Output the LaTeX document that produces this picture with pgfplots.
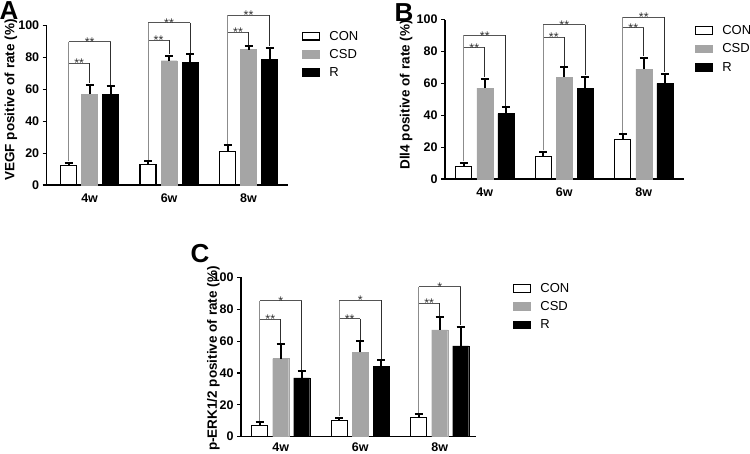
\documentclass[border=0pt]{standalone}
\usepackage{pgfplots}
\pgfplotsset{compat=1.18}
\usepackage{pgfplotstable}
\usepackage{fontspec}
\setmainfont{Liberation Sans}
\definecolor{csdgray}{HTML}{A5A5A5}
\definecolor{brgray}{HTML}{8C8C8C}
\definecolor{brmid}{HTML}{555555}
\definecolor{brdark}{HTML}{303030}

\pgfplotstableread{
x con conerr csd csderr r rerr
0 12 2 57 6 57 5
1 13 2 78 3 77 5
2 21 4 85 2 79 7
}\dataA
\pgfplotstableread{
x con conerr csd csderr r rerr
0 8 2 57 6 41 4
1 14 3 64 6 57 7
2 25 3 69 7 60 6
}\dataB
\pgfplotstableread{
x con conerr csd csderr r rerr
0 7 2 49 9 37 4
1 10 2 53 7 44 4
2 12 2 67 8 57 12
}\dataC

% x1 y1 x2 y2 ytop xmid stars
\newcommand{\sig}[7]{%
  \draw[brgray, line width=0.9pt] (axis cs:#1,#2) -- (axis cs:#1,#5);
  \draw[brmid, line width=0.9pt] (axis cs:#1,#5) -- (axis cs:#3,#5);
  \draw[brdark, line width=0.9pt] (axis cs:#3,#5) -- (axis cs:#3,#4);
  \node[anchor=base, inner sep=0pt, yshift=-4.6pt, text=brdark, font=\fontsize{12.5}{12.5}\selectfont] at (axis cs:#6,#5) {#7};
}

\pgfplotsset{
  lim/.style={legend image code/.code={\draw[##1, line width=1.2pt] (0pt,-3.75pt) rectangle (17pt,3.75pt);}},
  eb/.style={error bars/.cd, y dir=plus, y explicit, error mark=-,
    error bar style={line width=2pt, black, solid},
    error mark options={rotate=90, line width=2pt, mark size=4pt, black, solid}},
  panel/.style={
    scale only axis, height=159.3pt,
    ymin=0, ymax=100, ytick={0,20,...,100}, yticklabels={0,20,40,60,80,100},
    xtick={0,1,2}, xticklabels={4w,6w,8w},
    axis lines=left, axis line style={-, line width=1.4pt},
    tick align=outside, major tick length=4pt,
    ytick style={line width=1.2pt, black},
    xtick style={draw=none},
    yticklabel style={font=\fontsize{12.5}{12.5}\selectfont\bfseries},
    xticklabel style={font=\fontsize{12.5}{12.5}\selectfont\bfseries, yshift=-1pt},
    ylabel style={font=\fontsize{13.5}{14}\selectfont\bfseries, anchor=center},
    clip=false,
    ybar, bar width=16pt,
    legend style={draw=none, fill=none, anchor=north west, font=\fontsize{13}{13}\selectfont,
      row sep=7.3pt, cells={anchor=west}, inner sep=0pt,
      nodes={inner sep=1pt, text height=8.5pt, text depth=0.5pt},
      /tikz/every odd column/.append style={column sep=8pt}},
  }
}

\begin{document}
\begin{tikzpicture}
\useasboundingbox (0,0) rectangle (750pt,454pt);

% ---------------- A ----------------
\begin{axis}[panel, at={(46.7pt,269pt)}, anchor=south west,
  width=241.6pt, xmin=-0.54, xmax=2.5,
  ylabel={VEGF positive of rate (\%)},
  ylabel style={at={(axis description cs:-0.148,0.534)}},
  legend style={at={(axis description cs:1.057,0.97)}}]
\addplot[fill=white, draw=black, line width=1.2pt, bar shift=-21pt, lim, eb] table[x=x,y=con,y error=conerr]{\dataA};
\addplot[fill=csdgray, draw=csdgray, bar shift=0pt, lim, eb] table[x=x,y=csd,y error=csderr]{\dataA};
\addplot[fill=black, draw=black, bar shift=21pt, lim, eb] table[x=x,y=r,y error=rerr]{\dataA};
\legend{CON,CSD,R}
\sig{-0.264}{15}{0}{64}{76.4}{-0.132}{**}
\sig{-0.264}{15}{0.264}{63}{89.8}{0}{**}
\sig{0.736}{16}{1}{82}{91}{0.868}{**}
\sig{0.736}{16}{1.264}{83}{102}{1}{**}
\sig{1.736}{26}{2}{88}{95.8}{1.868}{**}
\sig{1.736}{26}{2.264}{87}{106.5}{2}{**}
\end{axis}
\node[font=\fontsize{26}{26}\selectfont\bfseries, inner sep=0pt] at (9pt,443pt) {A};

% ---------------- B ----------------
\begin{axis}[panel, at={(445pt,275pt)}, anchor=south west,
  width=238.5pt, xmin=-0.5, xmax=2.5,
  ylabel={Dll4 positive of rate (\%)},
  ylabel style={at={(axis description cs:-0.163,0.528)}},
  legend style={at={(axis description cs:1.048,0.967)}}]
\addplot[fill=white, draw=black, line width=1.2pt, bar shift=-21pt, lim, eb] table[x=x,y=con,y error=conerr]{\dataB};
\addplot[fill=csdgray, draw=csdgray, bar shift=0pt, lim, eb] table[x=x,y=csd,y error=csderr]{\dataB};
\addplot[fill=black, draw=black, bar shift=21pt, lim, eb] table[x=x,y=r,y error=rerr]{\dataB};
\legend{CON,CSD,R}
\sig{-0.264}{11}{0}{64}{82.6}{-0.132}{**}
\sig{-0.264}{11}{0.264}{46}{90.1}{0}{**}
\sig{0.736}{18}{1}{71}{88.9}{0.868}{**}
\sig{0.736}{18}{1.264}{65}{96.9}{1}{**}
\sig{1.736}{29}{2}{77}{95}{1.868}{**}
\sig{1.736}{29}{2.264}{67}{101.7}{2}{**}
\end{axis}
\node[font=\fontsize{26}{26}\selectfont\bfseries, inner sep=0pt] at (404pt,441.5pt) {B};

% ---------------- C ----------------
\begin{axis}[panel, at={(241pt,17.3pt)}, anchor=south west,
  width=235.3pt, xmin=-0.5, xmax=2.46,
  ylabel={p-ERK1/2 positive of rate (\%)},
  ylabel style={at={(axis description cs:-0.117,0.49)}},
  xticklabel style={yshift=2.5pt},
  legend style={at={(axis description cs:1.156,0.967)}}]
\addplot[fill=white, draw=black, line width=1.2pt, bar shift=-21pt, lim, eb] table[x=x,y=con,y error=conerr]{\dataC};
\addplot[fill=csdgray, draw=csdgray, bar shift=0pt, lim, eb] table[x=x,y=csd,y error=csderr]{\dataC};
\addplot[fill=black, draw=black, bar shift=21pt, lim, eb] table[x=x,y=r,y error=rerr]{\dataC};
\legend{CON,CSD,R}
\sig{-0.264}{10}{0}{59}{73.8}{-0.132}{**}
\sig{-0.264}{10}{0.264}{42}{85.3}{0}{*}
\sig{0.736}{13}{1}{61}{74}{0.868}{**}
\sig{0.736}{13}{1.264}{49}{85.8}{1}{*}
\sig{1.736}{15}{2}{76}{83.7}{1.868}{**}
\sig{1.736}{15}{2.264}{70}{94.1}{2}{*}
\end{axis}
\node[font=\fontsize{26}{26}\selectfont\bfseries, inner sep=0pt] at (200pt,200.3pt) {C};
\end{tikzpicture}
\end{document}
